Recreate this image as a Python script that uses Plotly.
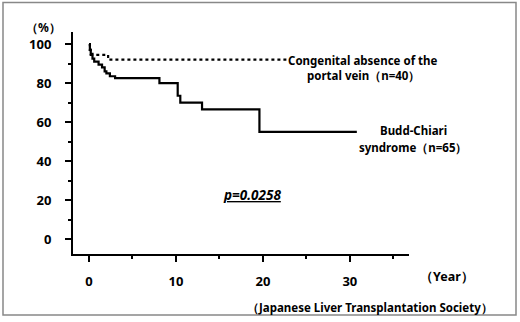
import plotly.graph_objects as go

# Kaplan-Meier step data (years, survival %)
bc_time = [0, 0.1, 0.2, 0.4, 0.6, 1.1, 1.5, 1.8, 2.0, 2.4, 3.0, 8.1, 10.2, 10.5, 13.0, 19.6, 30.8]
bc_surv = [100, 97, 95, 92.5, 91, 89.5, 88, 86, 85, 83.5, 82.5, 80, 73.5, 70, 66.5, 55, 55]
cap_time = [0, 0.1, 0.2, 2.2, 22.7]
cap_surv = [100, 97, 94.5, 92, 92]

x_ticks = [0, 10, 20, 30]
y_ticks = [0, 20, 40, 60, 80, 100]

W, H = 520, 322
L, R, T, B = 73, 409, 32, 254  # plot area pixels

def px(x):
    return (x - L) / (R - L)

def py(y):
    return (B - y) / (B - T)

FONT = "Noto Sans"
fig = go.Figure()
fig.add_trace(go.Scatter(x=cap_time, y=cap_surv, mode="lines", line_shape="hv",
                         line=dict(color="black", width=2.2, dash="dot"), showlegend=False))
fig.add_trace(go.Scatter(x=bc_time, y=bc_surv, mode="lines", line_shape="hv",
                         line=dict(color="black", width=2.2), showlegend=False))

fig.update_layout(
    width=W, height=H,
    margin=dict(l=L, r=W - R, t=T, b=H - B),
    plot_bgcolor="white", paper_bgcolor="white",
    font=dict(family=FONT, size=13, color="black"),
    xaxis=dict(range=[-1.84, 36.8], tickvals=x_ticks, showline=True, linecolor="black", linewidth=2,
               ticks="outside", ticklen=6, tickwidth=2, tickcolor="black", showgrid=False, zeroline=False,
               tickfont=dict(family=FONT, size=13, weight="bold"), ticklabelstandoff=8,
               minor=dict(dtick=5, tick0=0, ticks="outside", ticklen=3, tickwidth=2, tickcolor="black", showgrid=False)),
    yaxis=dict(range=[-7.7, 106.2], tickvals=y_ticks, showline=True, linecolor="black", linewidth=2,
               ticks="outside", ticklen=6, tickwidth=2, tickcolor="black", showgrid=False, zeroline=False,
               tickfont=dict(family=FONT, size=13, weight="bold"), ticklabelstandoff=11,
               minor=dict(dtick=10, tick0=0, ticks="outside", ticklen=3, tickwidth=2, tickcolor="black", showgrid=False)),
)

def ann(text, x, y, size=11.5, **kw):
    fig.add_annotation(text=text, xref="paper", yref="paper", x=px(x), y=py(y),
                       showarrow=False, xanchor="center", yanchor="middle",
                       font=dict(family=FONT, size=size, color="black", weight="bold"), **kw)

ann("Congenital absence of the", 363, 60)
ann("portal vein（n=40）", 363, 75)
ann("Budd-Chiari", 413, 130.5)
ann("syndrome（n=65）", 413, 147.5)
ann("<i><u>p=0.0258</u></i>", 252, 195, size=13.5)
ann("（Year）", 447, 276, size=12.5)
ann("（Japanese Liver Transplantation Society）", 370, 307)
ann("（%）", 43, 27, size=12)

fig.add_shape(type="rect", xref="paper", yref="paper",
              x0=px(3), x1=px(516), y0=py(315), y1=py(2.5),
              line=dict(color="#888888", width=1.5), fillcolor="rgba(0,0,0,0)", layer="below")

fig.write_html("out.html")
